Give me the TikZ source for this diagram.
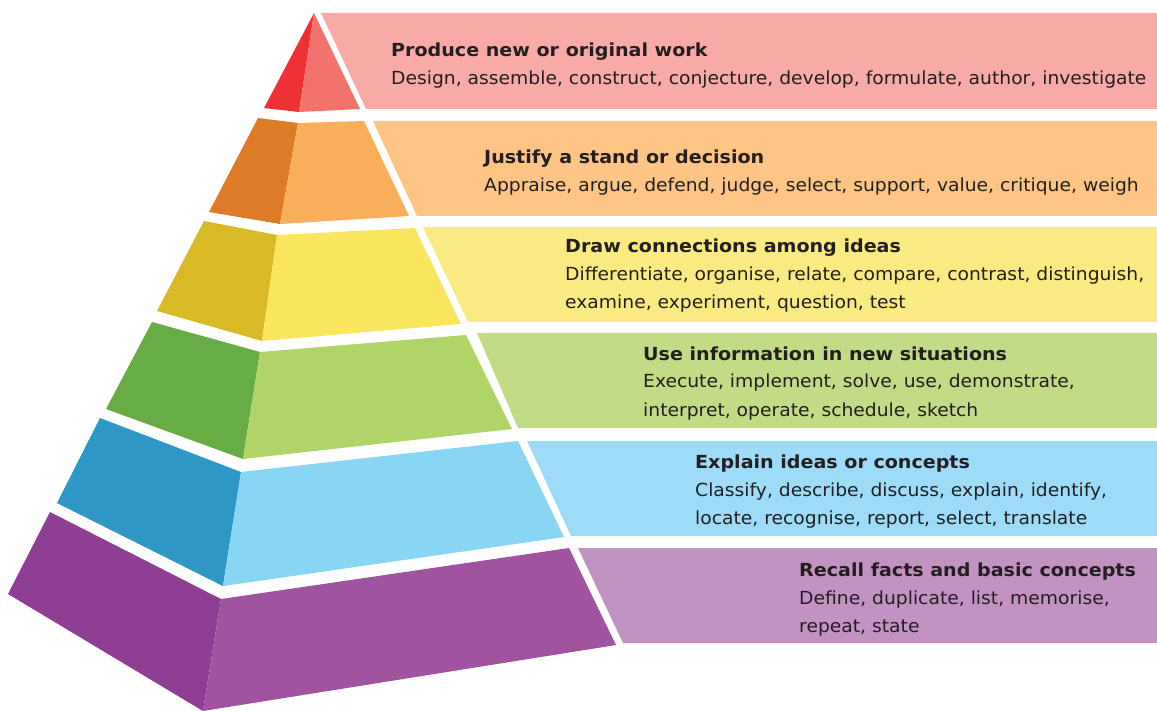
\documentclass[tikz,border=0pt]{standalone}
\usepackage{fontspec}
\setmainfont{DejaVu Sans}[FakeStretch=1.04,BoldFeatures={FakeStretch=1.06}]
\definecolor{redL}{HTML}{EE3135}
\definecolor{redF}{HTML}{F1736B}
\definecolor{redB}{HTML}{F7AAA6}
\definecolor{orL}{HTML}{DE7B27}
\definecolor{orF}{HTML}{F9AF59}
\definecolor{orB}{HTML}{FCC585}
\definecolor{yeL}{HTML}{D8BA26}
\definecolor{yeF}{HTML}{F9E55E}
\definecolor{yeB}{HTML}{F9EA82}
\definecolor{grL}{HTML}{68AC45}
\definecolor{grF}{HTML}{B1D468}
\definecolor{grB}{HTML}{C2DB86}
\definecolor{blL}{HTML}{2D97C6}
\definecolor{blF}{HTML}{88D5F4}
\definecolor{blB}{HTML}{9DDBF6}
\definecolor{puL}{HTML}{8E3F94}
\definecolor{puF}{HTML}{A054A0}
\definecolor{puB}{HTML}{C292C2}
\definecolor{txt}{HTML}{231F20}
\begin{document}
\begin{tikzpicture}[x=1pt,y=-1pt,
  title/.style={anchor=base west,inner sep=0pt,text=txt,font=\fontsize{18}{22}\selectfont\bfseries},
  body/.style={anchor=base west,inner sep=0pt,text=txt,font=\fontsize{18}{22}\selectfont}]
\useasboundingbox[fill=white] (0,0) rectangle (1157,711);
% tier 1
\fill[redL] (314,13) -- (264,108) -- (299,112) -- cycle;
\fill[redF] (314,13) -- (299,112) -- (360,109) -- cycle;
\fill[redB] (321,13) -- (1157,13) -- (1157,109) -- (366,109) -- cycle;
% tier 2
\fill[orL] (258,118) -- (298,123) -- (280,224) -- (209,212) -- cycle;
\fill[orF] (298,123) -- (364,121) -- (409,216) -- (280,224) -- cycle;
\fill[orB] (373,121) -- (1157,121) -- (1157,216) -- (417,216) -- cycle;
% tier 3
\fill[yeL] (204,221) -- (277,235) -- (262,341) -- (157,311) -- cycle;
\fill[yeF] (277,235) -- (415,228) -- (461,324) -- (262,341) -- cycle;
\fill[yeB] (423,227) -- (1157,227) -- (1157,322) -- (468,322) -- cycle;
% tier 4
\fill[grL] (152,322) -- (260,352) -- (243,459) -- (106,409) -- cycle;
\fill[grF] (260,352) -- (466,335) -- (512,429) -- (243,459) -- cycle;
\fill[grB] (477,333) -- (1157,333) -- (1157,428) -- (518,428) -- cycle;
% tier 5
\fill[blL] (100,418) -- (241,472) -- (223,586) -- (57,503) -- cycle;
\fill[blF] (241,472) -- (518,441) -- (564,537) -- (223,586) -- cycle;
\fill[blB] (527,441) -- (1157,441) -- (1157,536) -- (571,536) -- cycle;
% tier 6
\fill[puL] (50,512) -- (221,599) -- (203,711) -- (8,594) -- cycle;
\fill[puF] (221,599) -- (569,548) -- (616,645) -- (203,711) -- cycle;
\fill[puB] (578,548) -- (1157,548) -- (1157,643) -- (623,643) -- cycle;
% texts
\node[title] (t1) at (391,57) {Produce new or original work};
\node[body] (t1a) at (391,85) {Design, assemble, construct, conjecture, develop, formulate, author, investigate};
\node[title] (t2) at (484,164) {Justify a stand or decision};
\node[body] (t2a) at (484,192) {Appraise, argue, defend, judge, select, support, value, critique, weigh};
\node[title] (t3) at (565,253) {Draw connections among ideas};
\node[body] (t3a) at (565,281) {Differentiate, organise, relate, compare, contrast, distinguish,};
\node[body] (t3b) at (565,309) {examine, experiment, question, test};
\node[title] (t4) at (643,360) {Use information in new situations};
\node[body] (t4a) at (643,388) {Execute, implement, solve, use, demonstrate,};
\node[body] (t4b) at (643,416) {interpret, operate, schedule, sketch};
\node[title] (t5) at (695,468) {Explain ideas or concepts};
\node[body] (t5a) at (695,496) {Classify, describe, discuss, explain, identify,};
\node[body] (t5b) at (695,524) {locate, recognise, report, select, translate};
\node[title] (t6) at (799,576) {Recall facts and basic concepts};
\node[body] (t6a) at (799,604) {Define, duplicate, list, memorise,};
\node[body] (t6b) at (799,632) {repeat, state};
\end{tikzpicture}
\end{document}
